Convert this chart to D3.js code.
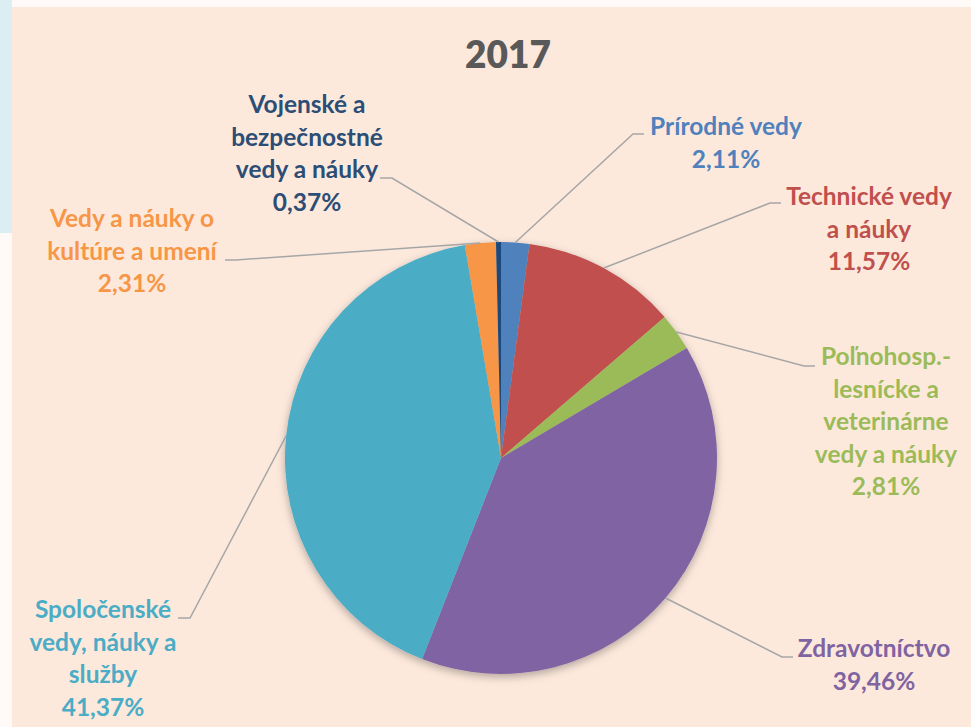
<!DOCTYPE html>
<html>
<head>
<meta charset="utf-8">
<script src="https://cdn.jsdelivr.net/npm/d3@7"></script>
<style>
  html, body { margin: 0; padding: 0; background: #fffaf7; }
  svg { display: block; }
</style>
</head>
<body>
<div id="chart"></div>
<script>
  // ── Data ──────────────────────────────────────────────
  var categories = [
    "Prírodné vedy",
    "Technické vedy a náuky",
    "Poľnohosp.-lesnícke a veterinárne vedy a náuky",
    "Zdravotníctvo",
    "Spoločenské vedy, náuky a služby",
    "Vedy a náuky o kultúre a umení",
    "Vojenské a bezpečnostné vedy a náuky"
  ];
  var values = [2.11, 11.57, 2.81, 39.46, 41.37, 2.31, 0.37];
  var labelLines = [
    ["Prírodné vedy"],
    ["Technické vedy", "a náuky"],
    ["Poľnohosp.-", "lesnícke a", "veterinárne", "vedy a náuky"],
    ["Zdravotníctvo"],
    ["Spoločenské", "vedy, náuky a", "služby"],
    ["Vedy a náuky o", "kultúre a umení"],
    ["Vojenské a", "bezpečnostné", "vedy a náuky"]
  ];
  var colors = ["#4f81bd", "#c0504d", "#9bbb59", "#8064a2", "#4bacc6", "#f79646", "#1f497d"];
  var textColors = ["#4f81bd", "#c0504d", "#9bbb59", "#8064a2", "#4bacc6", "#f79646", "#2c4d75"];
  var title = "2017";

  // label layout: text centre x, first baseline y, leader elbow [x1, x2, y]
  var labelLayout = [
    { x: 726, y: 135, elbow: [644, 633, 134] },
    { x: 869, y: 205, elbow: [781, 770, 203] },
    { x: 886, y: 365, elbow: [815, 804, 366] },
    { x: 874, y: 657, elbow: [793, 782, 657] },
    { x: 103, y: 618, elbow: [178, 190, 618] },
    { x: 132, y: 227, elbow: [225, 236, 260] },
    { x: 307, y: 113, elbow: [380, 392, 178] }
  ];

  var width = 971, height = 727;
  var cx = 501, cy = 458, radius = 216;
  var lineH = 32.5;
  var fmt = function (v) { return v.toFixed(2).replace(".", ",") + "%"; };

  var svg = d3.select("#chart").append("svg")
    .attr("width", width)
    .attr("height", height)
    .attr("font-family", "Lato, 'Open Sans', sans-serif");

  // background pieces
  svg.append("rect").attr("x", 0).attr("y", 0).attr("width", 12).attr("height", 233).attr("fill", "#dbeef4");
  svg.append("rect").attr("x", 12).attr("y", 7).attr("width", width - 12).attr("height", height - 7).attr("fill", "#fde9dc");

  var defs = svg.append("defs");
  var f = defs.append("filter").attr("id", "shadow")
    .attr("x", "-20%").attr("y", "-20%").attr("width", "140%").attr("height", "140%");
  f.append("feDropShadow").attr("dx", 0).attr("dy", 3).attr("stdDeviation", 4)
    .attr("flood-color", "#000").attr("flood-opacity", 0.3);

  svg.append("text")
    .attr("x", 508)
    .attr("y", 68)
    .attr("text-anchor", "middle")
    .attr("font-size", 37)
    .attr("font-weight", 800)
    .attr("fill", "#595959")
    .text(title);

  var pie = d3.pie().sort(null).value(function (d) { return d; });
  var arcs = pie(values);
  var arc = d3.arc().innerRadius(0).outerRadius(radius);

  var g = svg.append("g").attr("transform", "translate(" + cx + "," + cy + ")");
  g.append("g").attr("filter", "url(#shadow)")
    .selectAll("path")
    .data(arcs)
    .enter().append("path")
    .attr("d", arc)
    .attr("fill", function (d, i) { return colors[i]; });

  // leader lines
  arcs.forEach(function (d, i) {
    var a = (d.startAngle + d.endAngle) / 2;
    var sx = cx + radius * Math.sin(a), sy = cy - radius * Math.cos(a);
    var e = labelLayout[i].elbow;
    svg.append("polyline")
      .attr("points", [[e[0], e[2]], [e[1], e[2]], [sx, sy]].map(function (p) { return p.join(","); }).join(" "))
      .attr("fill", "none")
      .attr("stroke", "#a6a6a6")
      .attr("stroke-width", 1.5);
  });

  // labels
  arcs.forEach(function (d, i) {
    var L = labelLayout[i];
    var lines = labelLines[i].concat([fmt(values[i])]);
    var t = svg.append("text")
      .attr("text-anchor", "middle")
      .attr("font-size", 24.5)
      .attr("font-weight", 700)
      .attr("fill", textColors[i]);
    lines.forEach(function (s, k) {
      t.append("tspan").attr("x", L.x).attr("y", L.y + k * lineH).text(s);
    });
  });
</script>
</body>
</html>
